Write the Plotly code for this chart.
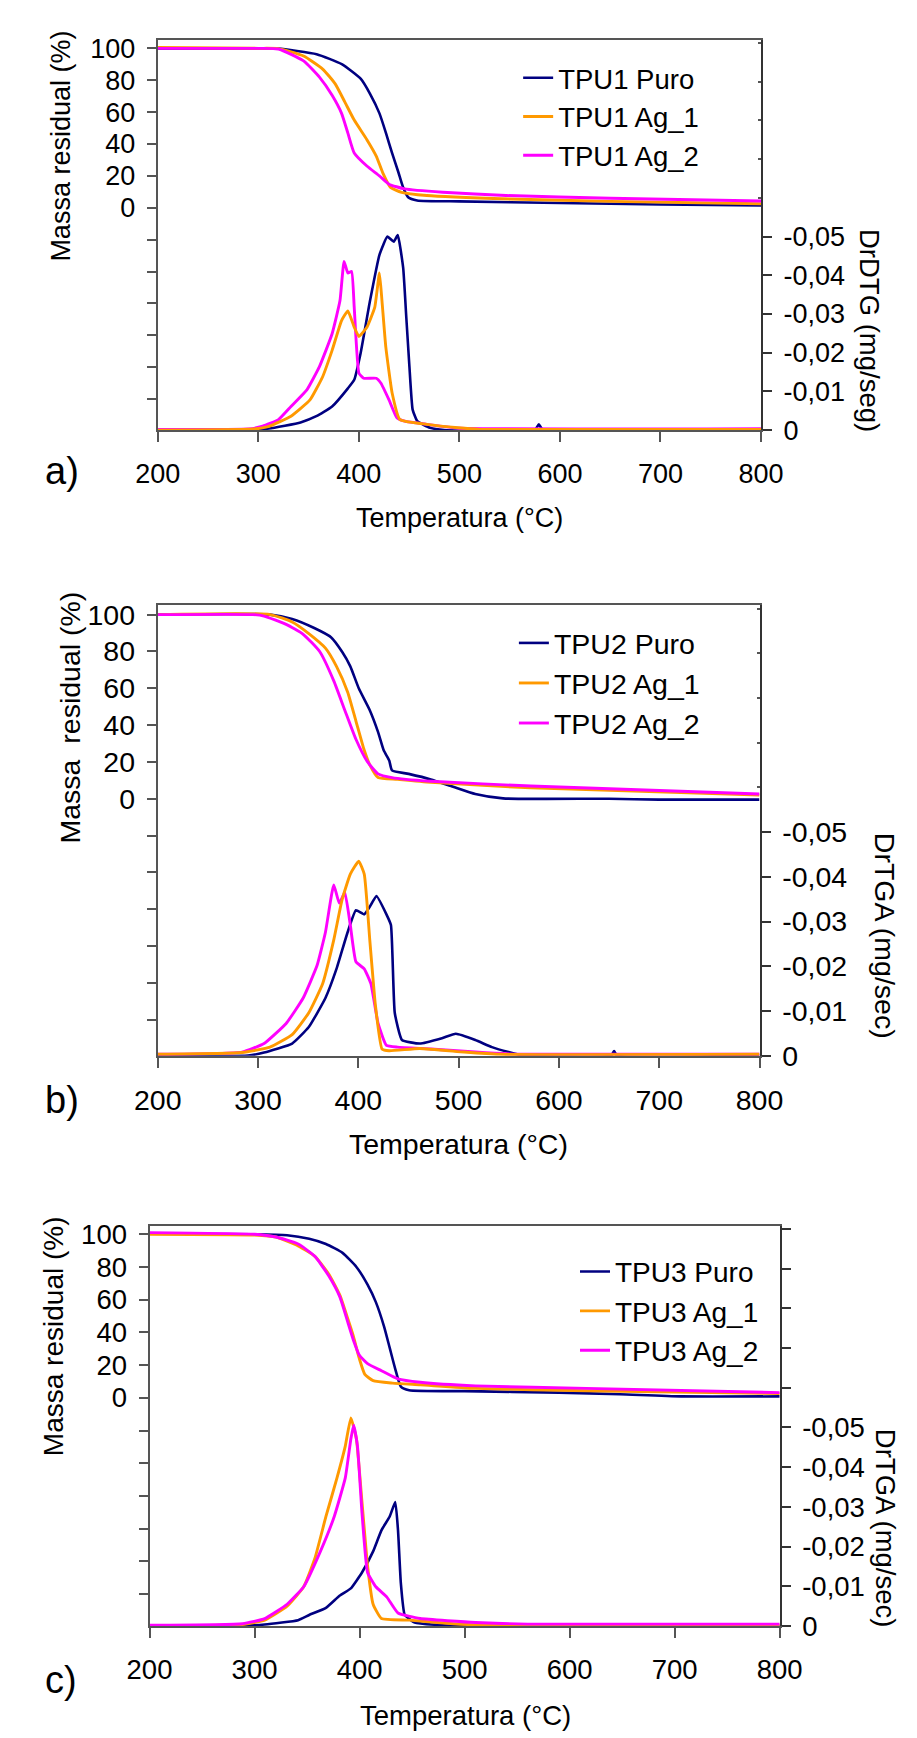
import plotly.graph_objects as go

# ---------------- Data ----------------
series_names_a = ["TPU1 Puro", "TPU1 Ag_1", "TPU1 Ag_2"]
series_names_b = ["TPU2 Puro", "TPU2 Ag_1", "TPU2 Ag_2"]
series_names_c = ["TPU3 Puro", "TPU3 Ag_1", "TPU3 Ag_2"]

x_ticks = [200, 300, 400, 500, 600, 700, 800]
tga_tickvals = [-140, -120, -100, -80, -60, -40, -20, 0, 20, 40, 60, 80, 100]
tga_ticktext = ["", "", "", "", "", "", "", "0", "20", "40", "60", "80", "100"]
dtg_tickvals = [0, -0.01, -0.02, -0.03, -0.04, -0.05]
dtg_ticktext = ["0", "-0,01", "-0,02", "-0,03", "-0,04", "-0,05"]
dtg_upper_ticks = [-0.06, -0.07, -0.08, -0.09, -0.10]

# Panel a) TPU1 - TGA
a_puro_tga_T = [200, 310, 320, 358, 383, 402, 411, 420.5, 427, 433, 439.4, 444, 449, 458, 500, 600, 700, 800]
a_puro_tga_m = [100, 100, 99.8, 96.3, 90.1, 80.8, 71.6, 59.2, 46.8, 34.4, 22.1, 12.8, 6.6, 4.6, 4.0, 3.0, 2.0, 1.5]
a_ag1_tga_T = [200, 300, 320, 345, 364, 376.5, 386, 395.4, 408, 417.3, 423.7, 431.5, 442.5, 467.6, 550, 650, 800]
a_ag1_tga_m = [100.5, 100, 99.8, 95.2, 87, 77.7, 66.4, 55, 42.7, 32.4, 22.1, 12.8, 9.7, 7.7, 5.5, 4.0, 2.5]
a_ag2_tga_T = [200, 300, 320, 345, 360.8, 373.4, 382.8, 389.1, 395.4, 408, 420.5, 430, 445.6, 483.4, 546.3, 650, 800]
a_ag2_tga_m = [100, 100, 99.6, 92.1, 81.9, 70.5, 59.2, 46.8, 34.4, 26.2, 20, 14.8, 11.8, 9.7, 7.7, 6.0, 4.2]
# Panel a) TPU1 - DTG
a_puro_dtg_T = [200, 290, 310.6, 342, 357.7, 373.4, 389.1, 395.4, 401.7, 411.1, 420.5, 428.4, 434.7, 438.7, 444.1, 447.2, 450.3, 453.5, 458.2, 470.8, 485, 575, 579, 583, 800]
a_puro_dtg_d = [0, 0, -0.0004, -0.002, -0.0036, -0.0061, -0.0108, -0.013, -0.0198, -0.0334, -0.0453, -0.05, -0.0487, -0.0504, -0.0419, -0.0291, -0.0164, -0.0053, -0.0023, -0.0006, 0, 0, -0.0015, 0, 0]
a_ag1_dtg_T = [200, 295, 310.6, 332.5, 351.4, 364, 373.4, 382.8, 389.1, 395.4, 400.1, 408, 415.8, 420.5, 423, 426.8, 433.1, 440.9, 467.6, 498.8, 520, 800]
a_ag1_dtg_d = [0, -0.0003, -0.001, -0.0036, -0.0078, -0.0138, -0.0206, -0.0283, -0.0308, -0.0266, -0.0242, -0.0266, -0.0317, -0.0406, -0.0334, -0.0215, -0.0096, -0.0027, -0.0015, -0.0006, -0.0002, -0.0002]
a_ag2_dtg_T = [200, 290, 304.3, 320, 332.5, 348.3, 360.8, 373.4, 381.2, 385.3, 389.1, 392.8, 395.4, 400.1, 404.8, 417.3, 422, 430, 437.8, 445.6, 467.6, 500, 800]
a_ag2_dtg_d = [-0.0002, -0.0003, -0.001, -0.0027, -0.0061, -0.0104, -0.0164, -0.0249, -0.0334, -0.0436, -0.0406, -0.041, -0.0317, -0.0147, -0.0134, -0.0134, -0.0121, -0.0078, -0.0032, -0.0023, -0.0015, -0.0005, -0.0004]

# Panel b) TPU2 - TGA
b_puro_tga_T = [200, 312, 334, 356, 372.7, 383.8, 392, 400.4, 411.4, 419.7, 425.3, 430.8, 433.6, 450.2, 472.3, 494.5, 516.6, 544.3, 650, 700, 800]
b_puro_tga_m = [100, 100, 97.6, 92.7, 87.7, 79.8, 71.9, 60, 48.1, 36.2, 26.3, 20.8, 15.4, 13.5, 10.5, 6.5, 2.6, 0.2, 0, -0.5, -0.5]
b_ag1_tga_T = [200, 312, 334, 350.6, 367.2, 378.2, 389.3, 397.6, 405.9, 411.4, 419.7, 439.1, 472.3, 572, 800]
b_ag1_tga_m = [100, 100, 96, 89.7, 81.8, 71.9, 58, 42.2, 26.3, 18.4, 11.5, 10.5, 8.9, 5.9, 2.0]
b_ag2_tga_T = [200, 295, 306, 328, 345, 361.6, 375.5, 386.5, 397.6, 408.7, 419.7, 433.6, 472.3, 572, 800]
b_ag2_tga_m = [100, 100, 99.2, 94.7, 89.3, 79.8, 64, 48.1, 32.3, 20.4, 13.5, 11.5, 9.5, 6.9, 2.6]
# Panel b) TPU2 - DTG
b_puro_dtg_T = [200, 290, 306, 334, 350.6, 367.2, 378.2, 389.3, 397.6, 405.9, 411.4, 418.1, 428, 432.5, 436.3, 443.5, 461.2, 483.4, 497.2, 516.6, 533.2, 549.8, 565, 652, 655, 658, 800]
b_puro_dtg_d = [0, 0, -0.0007, -0.0027, -0.0064, -0.0129, -0.0194, -0.0276, -0.0325, -0.0316, -0.0333, -0.0357, -0.0316, -0.0292, -0.0096, -0.0035, -0.0027, -0.0039, -0.0049, -0.0035, -0.0019, -0.0008, 0, 0, -0.001, 0, 0]
b_ag1_dtg_T = [200, 284, 311.8, 334, 350.6, 364.4, 375.5, 383.8, 392, 400.4, 405.9, 411.4, 417, 423.6, 430.8, 461.2, 505.5, 540, 800]
b_ag1_dtg_d = [-0.0003, -0.0007, -0.0019, -0.0047, -0.0096, -0.0161, -0.0259, -0.0349, -0.0406, -0.0435, -0.0406, -0.0259, -0.0113, -0.0015, -0.0011, -0.0016, -0.0008, -0.0003, -0.0003]
b_ag2_dtg_T = [200, 284, 306, 328, 345, 358.9, 367.2, 375.5, 381, 386.5, 392, 397.6, 405.9, 412.5, 419.7, 428, 439.1, 472.3, 516.6, 560, 800]
b_ag2_dtg_d = [-0.0003, -0.0008, -0.0027, -0.0072, -0.0129, -0.0202, -0.0276, -0.0382, -0.0341, -0.0365, -0.0292, -0.021, -0.0194, -0.0161, -0.0072, -0.0023, -0.0019, -0.0015, -0.0008, -0.0003, -0.0003]

# Panel c) TPU3 - TGA
c_puro_tga_T = [200, 299, 331, 352, 368, 383.8, 397, 407.6, 415.5, 423.4, 428.7, 434, 439.3, 447.2, 500, 589.8, 647.9, 706, 800]
c_puro_tga_m = [100.3, 100, 99.4, 97.2, 94, 88.6, 80, 69.2, 58.5, 43.4, 30.5, 17.6, 6.9, 4.7, 4.1, 3.2, 2.2, 0.9, 0.9]
c_ag1_tga_T = [200, 300, 320.4, 341.5, 357.4, 370.6, 381.2, 389.1, 394.4, 399.7, 405, 412.9, 431.4, 457.7, 510.5, 616, 800]
c_ag1_tga_m = [100, 99.5, 98.3, 92.9, 86.5, 75.7, 62.8, 47.7, 37, 24.1, 14.4, 10.5, 9, 8, 5.8, 4.3, 2.6]
c_ag2_tga_T = [200, 300, 320.4, 341.5, 357.4, 370.6, 381.2, 389.1, 394.4, 399.7, 407.6, 420.8, 436.6, 457.7, 510.5, 616, 800]
c_ag2_tga_m = [101, 100, 98.3, 94, 86.5, 74.6, 61.7, 45.6, 34.8, 26.2, 20.9, 16.6, 11.6, 9.5, 7.3, 5.8, 3.2]
# Panel c) TPU3 - DTG
c_puro_dtg_T = [200, 280, 309.7, 341.5, 352, 368, 381.2, 391.7, 402.3, 412.9, 420.8, 428.7, 434, 436.6, 439.3, 443, 452.5, 478.9, 500, 800]
c_puro_dtg_d = [0, 0, -0.0004, -0.0015, -0.0028, -0.0046, -0.0077, -0.0095, -0.0135, -0.0188, -0.0241, -0.0276, -0.0312, -0.0241, -0.0108, -0.0028, -0.0009, -0.0002, 0, 0]
c_ag1_dtg_T = [200, 288.6, 309.7, 331, 346.8, 357.4, 368, 378.5, 386.4, 391.7, 397, 402.3, 407.6, 412.9, 420.8, 447.2, 489.4, 520, 800]
c_ag1_dtg_d = [0, -0.0004, -0.0015, -0.005, -0.0099, -0.017, -0.0276, -0.0373, -0.0453, -0.0524, -0.0471, -0.0312, -0.0152, -0.0055, -0.0019, -0.0015, -0.0006, -0.0002, -0.0002]
c_ag2_dtg_T = [200, 288.6, 309.7, 331, 346.8, 362.7, 375.9, 386.4, 391.7, 394.4, 398, 402.3, 407.6, 415.5, 426, 436.6, 457.7, 510.5, 560, 800]
c_ag2_dtg_d = [-0.0002, -0.0006, -0.0019, -0.0055, -0.0099, -0.0188, -0.0276, -0.0373, -0.0471, -0.0506, -0.0453, -0.0285, -0.0135, -0.0099, -0.0073, -0.0033, -0.0019, -0.0009, -0.0005, -0.0005]

# ---------------- Styling ----------------
W, H = 917, 1738
NAVY, ORANGE, MAGENTA = "#000080", "#FF9900", "#FF00FF"
colors = [NAVY, ORANGE, MAGENTA]
FONT = "Liberation Sans, Arial, sans-serif"
AXC = "#555555"

def px_x(p):
    return p / W

def px_y(p):
    return 1 - p / H

# plot-area boxes in pixels: (left, right, top, bottom)
boxes = {
    "a": (132.7, 769.3, 25.7, 420.7),
    "b": (132.7, 767.7, 598.3, 1054.6),
    "c": (124.0, 789.0, 1227.3, 1632.7),
}

fig = go.Figure()

panels = [
    ("a", "x", "y", "y2", "legend", series_names_a,
     [(a_puro_tga_T, a_puro_tga_m), (a_ag1_tga_T, a_ag1_tga_m), (a_ag2_tga_T, a_ag2_tga_m)],
     [(a_puro_dtg_T, a_puro_dtg_d), (a_ag2_dtg_T, a_ag2_dtg_d), (a_ag1_dtg_T, a_ag1_dtg_d)], [0, 2, 1]),
    ("b", "x2", "y3", "y4", "legend2", series_names_b,
     [(b_puro_tga_T, b_puro_tga_m), (b_ag1_tga_T, b_ag1_tga_m), (b_ag2_tga_T, b_ag2_tga_m)],
     [(b_puro_dtg_T, b_puro_dtg_d), (b_ag2_dtg_T, b_ag2_dtg_d), (b_ag1_dtg_T, b_ag1_dtg_d)], [0, 2, 1]),
    ("c", "x3", "y5", "y6", "legend3", series_names_c,
     [(c_puro_tga_T, c_puro_tga_m), (c_ag1_tga_T, c_ag1_tga_m), (c_ag2_tga_T, c_ag2_tga_m)],
     [(c_puro_dtg_T, c_puro_dtg_d), (c_ag1_dtg_T, c_ag1_dtg_d), (c_ag2_dtg_T, c_ag2_dtg_d)], [0, 1, 2]),
]

for key, xa, ya, ya2, leg, names, tga, dtg, dtg_order in panels:
    for i, (T, m) in enumerate(tga):
        w = 2.6 if i == 0 else 2.9
        fig.add_trace(go.Scatter(
            x=T, y=m, mode="lines", name=names[i], xaxis=xa, yaxis=ya,
            line=dict(color=colors[i], width=w, shape="spline", smoothing=0.5),
            legend=leg, legendgroup=key + str(i), showlegend=True))
    for j, (T, d) in enumerate(dtg):
        i = dtg_order[j]
        w = 2.6 if i == 0 else 2.9
        fig.add_trace(go.Scatter(
            x=T, y=d, mode="lines", name=names[i], xaxis=xa, yaxis=ya2,
            line=dict(color=colors[i], width=w, shape="spline", smoothing=0.4),
            legendgroup=key + str(i), showlegend=False))

layout = dict(
    width=W, height=H, margin=dict(l=0, r=0, t=0, b=0),
    paper_bgcolor="white", plot_bgcolor="white",
    font=dict(family=FONT, color="black", size=27),
    showlegend=True,
)

axis_names = {"a": ("xaxis", "yaxis", "yaxis2", "x", "y"),
              "b": ("xaxis2", "yaxis3", "yaxis4", "x2", "y3"),
              "c": ("xaxis3", "yaxis5", "yaxis6", "x3", "y5")}
tick_fs = {"a": 27, "b": 28.5, "c": 27.5}

for key, (l, r, t, b) in boxes.items():
    xn, yn, yn2, xref, yref = axis_names[key]
    fs = tick_fs[key]
    layout[xn] = dict(
        domain=[px_x(l), px_x(r)], anchor=yref, range=[200, 800],
        tickmode="array", tickvals=x_ticks, ticktext=[str(v) for v in x_ticks],
        ticks="outside", ticklen=10, tickwidth=2, tickcolor=AXC,
        showline=True, linecolor=AXC, linewidth=2, mirror=True,
        showgrid=False, zeroline=False, tickfont=dict(size=fs),
        ticklabelstandoff=8,
    )
    layout[yn] = dict(
        domain=[px_y(b), px_y(t)], anchor=xref, range=[-139.5, 105],
        tickmode="array", tickvals=tga_tickvals, ticktext=tga_ticktext,
        ticks="outside", ticklen=9, tickwidth=2, tickcolor=AXC,
        showline=True, linecolor=AXC, linewidth=2,
        showgrid=False, zeroline=False, tickfont=dict(size=fs),
        ticklabelstandoff=6,
    )
    if key == "c":
        rv = dtg_tickvals + dtg_upper_ticks
        rt = dtg_ticktext + [""] * len(dtg_upper_ticks)
        minor = None
    else:
        rv, rt = dtg_tickvals, dtg_ticktext
        minor = dict(tickmode="array", tickvals=dtg_upper_ticks, ticks="inside",
                     ticklen=3, tickwidth=2, tickcolor=AXC)
    ax2 = dict(
        overlaying=yref, side="right", anchor=xref, range=[0, -0.1007],
        tickmode="array", tickvals=rv, ticktext=rt,
        ticks="outside", ticklen=9, tickwidth=2, tickcolor="#333333",
        showline=True, linecolor="#333333", linewidth=2,
        showgrid=False, zeroline=False, tickfont=dict(size=fs),
        ticklabelstandoff=6,
    )
    if minor:
        ax2["minor"] = minor
    layout[yn2] = ax2

# legends: (text start px, first row centre px, font size)
leg_specs = {"legend": (553, 63.3, 27.5), "legend2": (548.5, 636, 28.5), "legend3": (613, 1273, 28)}
for ln, (tx, row1, fs) in leg_specs.items():
    h = fs * 1.3 + 3
    top = row1 - 5 - h / 2
    layout[ln] = dict(
        x=px_x(tx - 40), y=px_y(top), xanchor="left", yanchor="top",
        bgcolor="rgba(0,0,0,0)", borderwidth=0, font=dict(size=fs, family=FONT),
        itemwidth=30, traceorder="grouped", tracegroupgap=0,
    )

fig.update_layout(**layout)

def ann(text, x, y, size, angle=0):
    fig.add_annotation(text=text, x=px_x(x), y=px_y(y), xref="paper", yref="paper",
                       showarrow=False, xanchor="center", yanchor="middle",
                       textangle=angle, font=dict(size=size, family=FONT, color="black"))

# panel labels
ann("a)", 32, 462, 38)
ann("b)", 32, 1100, 38)
ann("c)", 31, 1687, 38)
# x titles
ann("Temperatura (°C)", 451, 510, 27)
ann("Temperatura (°C)", 450, 1144, 28.5)
ann("Temperatura (°C)", 457.6, 1723, 27.5)
# left titles
ann("Massa residual (%)", 31, 133, 27, -90)
ann("Massa\u00a0 residual (%)", 40, 712, 28.5, -90)
ann("Massa residual (%)", 22, 1339, 28, -90)
# right titles
ann("DrDTG (mg/seg)", 883, 320, 27.5, 90)
ann("DrTGA (mg/sec)", 901, 933, 28.5, 90)
ann("DrTGA (mg/sec)", 900, 1534, 27.5, 90)

fig.write_html("out.html")
